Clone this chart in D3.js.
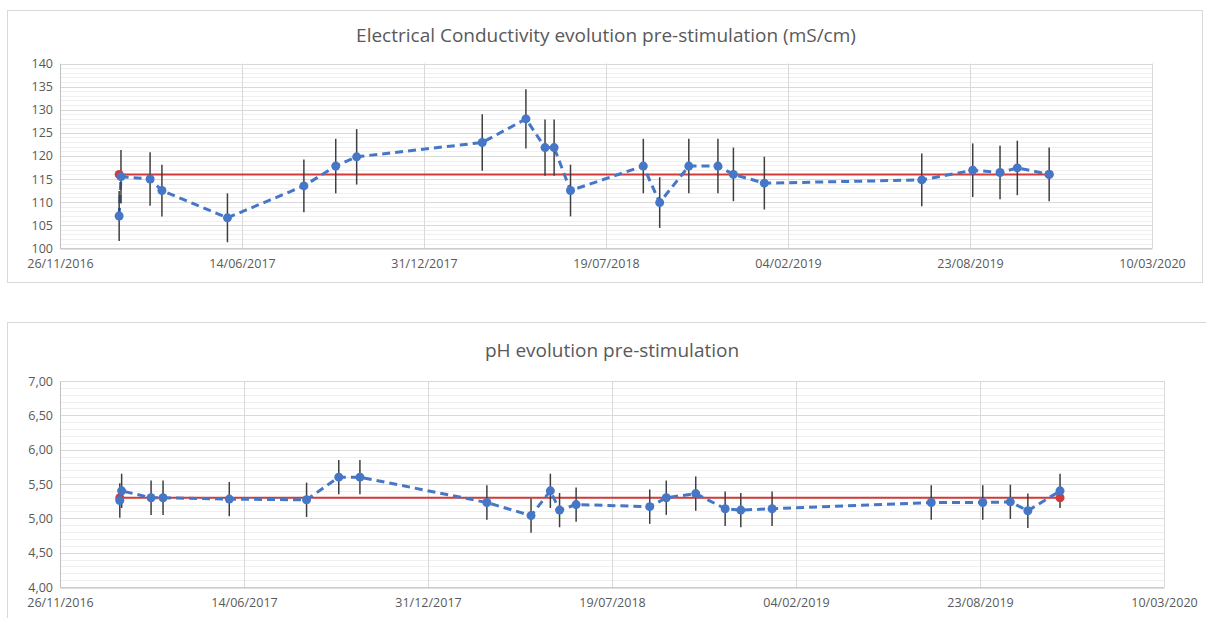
<!DOCTYPE html>
<html>
<head>
<meta charset="utf-8">
<script src="https://cdn.jsdelivr.net/npm/d3@7"></script>
<style>
  body { margin: 0; background: #fff; }
  svg { display: block; font-family: "Open Sans", "Noto Sans", sans-serif; }
</style>
</head>
<body>
<svg id="chart" width="1206" height="618"></svg>
<script>
// sampling dates shared by both charts
const sampleDates = [
  "2017-01-30", "2017-02-01", "2017-03-05", "2017-03-18", "2017-05-29",
  "2017-08-21", "2017-09-25", "2017-10-18", "2018-03-05", "2018-04-22",
  "2018-05-13", "2018-05-23", "2018-06-10", "2018-08-29", "2018-09-16",
  "2018-10-18", "2018-11-19", "2018-12-06", "2019-01-09", "2019-07-01",
  "2019-08-26", "2019-09-25", "2019-10-14", "2019-11-18"
];

// electrical conductivity (mS/cm) and its error bars
const ecValues = [
  107, 115.5, 115, 112.5, 106.6, 113.5, 117.8, 119.8, 122.9, 128,
  121.8, 121.8, 112.5, 117.8, 109.9, 117.8, 117.8, 116, 114.1, 114.8,
  116.9, 116.4, 117.4, 116
];
const ecErrors = [
  5.4, 5.8, 5.8, 5.6, 5.3, 5.7, 5.9, 6.0, 6.1, 6.4,
  6.1, 6.1, 5.6, 5.9, 5.5, 5.9, 5.9, 5.8, 5.7, 5.7,
  5.8, 5.8, 5.9, 5.8
];

// pH values and error bars
const phValues = [
  5.26, 5.40, 5.30, 5.30, 5.28, 5.27, 5.60, 5.60, 5.23, 5.04,
  5.40, 5.12, 5.20, 5.17, 5.30, 5.36, 5.14, 5.12, 5.14, 5.23,
  5.23, 5.24, 5.11, 5.40
];
const phErrors = [
  0.25, 0.25, 0.25, 0.25, 0.25, 0.25, 0.25, 0.25, 0.25, 0.25,
  0.25, 0.25, 0.25, 0.25, 0.25, 0.25, 0.25, 0.25, 0.25, 0.25,
  0.25, 0.25, 0.25, 0.25
];

// reference (mean) lines, drawn in red
const refDates = ["2017-01-30", "2019-11-18"];
const ecRef = [116, 116];
const phRef = [5.30, 5.30];

// axis tick labels
const xTickLabels = ["26/11/2016", "14/06/2017", "31/12/2017", "19/07/2018",
                     "04/02/2019", "23/08/2019", "10/03/2020"];
const ecTicks = [100, 105, 110, 115, 120, 125, 130, 135, 140];
const phTicks = [4.0, 4.5, 5.0, 5.5, 6.0, 6.5, 7.0];

const blue = "#4677c6";
const red = "#d23b3a";
const grey = "#595959";

const svg = d3.select("#chart");

const parseIso = d3.utcParse("%Y-%m-%d");
const parseTick = d3.utcParse("%d/%m/%Y");

function drawChart(opt) {
  const g = svg.append("g");

  // outer chart box
  g.append("rect")
    .attr("x", opt.box[0] + 0.5).attr("y", opt.box[1] + 0.5)
    .attr("width", opt.box[2]).attr("height", opt.box[3])
    .attr("fill", "#fff").attr("stroke", "#d9d9d9");

  g.append("text")
    .attr("x", opt.titleX).attr("y", opt.titleY)
    .attr("text-anchor", "middle")
    .attr("font-size", 19)
    .attr("fill", grey)
    .text(opt.title);

  const tickDates = xTickLabels.map(parseTick);
  const x = d3.scaleUtc()
    .domain([tickDates[0], tickDates[tickDates.length - 1]])
    .range([opt.left, opt.right]);
  const y = d3.scaleLinear()
    .domain([opt.ticks[0], opt.ticks[opt.ticks.length - 1]])
    .range([opt.bottom, opt.top]);

  // minor horizontal gridlines
  const minor = d3.range(opt.ticks[0], opt.ticks[opt.ticks.length - 1] + 1e-9, opt.minorStep);
  g.append("g").selectAll("line")
    .data(minor)
    .join("line")
    .attr("x1", opt.left).attr("x2", opt.right)
    .attr("y1", d => Math.round(y(d)) + 0.5)
    .attr("y2", d => Math.round(y(d)) + 0.5)
    .attr("stroke", "#efefef");

  // major horizontal gridlines
  g.append("g").selectAll("line")
    .data(opt.ticks)
    .join("line")
    .attr("x1", opt.left).attr("x2", opt.right)
    .attr("y1", d => Math.round(y(d)) + 0.5)
    .attr("y2", d => Math.round(y(d)) + 0.5)
    .attr("stroke", "#d9d9d9");

  // vertical gridlines
  g.append("g").selectAll("line")
    .data(tickDates)
    .join("line")
    .attr("x1", d => Math.round(x(d)) + 0.5)
    .attr("x2", d => Math.round(x(d)) + 0.5)
    .attr("y1", opt.top).attr("y2", opt.bottom)
    .attr("stroke", "#d9d9d9");

  // y axis labels
  const yAxis = g.append("g")
    .attr("transform", `translate(${opt.left},0)`)
    .call(d3.axisLeft(y).tickValues(opt.ticks).tickFormat(opt.fmt).tickSize(0).tickPadding(7));
  yAxis.select(".domain").attr("stroke", "#bfbfbf");

  // x axis labels
  const xAxis = g.append("g")
    .attr("transform", `translate(0,${Math.round(opt.bottom) + 0.5})`)
    .call(d3.axisBottom(x).tickValues(tickDates).tickFormat(d3.utcFormat("%d/%m/%Y")).tickSize(0).tickPadding(11));
  xAxis.select(".domain").attr("stroke", "#bfbfbf");

  g.selectAll(".tick text")
    .attr("font-family", '"Open Sans", "Noto Sans", sans-serif')
    .attr("font-size", 12.5)
    .attr("fill", grey);

  const pts = sampleDates.map((d, i) => ({ date: parseIso(d), v: opt.values[i], e: opt.errors[i] }));

  // red reference line
  const ref = refDates.map((d, i) => ({ date: parseIso(d), v: opt.ref[i] }));
  const line = d3.line().x(d => x(d.date)).y(d => y(d.v));

  g.append("path")
    .datum(ref)
    .attr("d", line)
    .attr("fill", "none")
    .attr("stroke", red)
    .attr("stroke-width", 2);

  // blue dashed series
  g.append("path")
    .datum(pts)
    .attr("d", line)
    .attr("fill", "none")
    .attr("stroke", blue)
    .attr("stroke-width", 3)
    .attr("stroke-dasharray", "8,5");

  // error bars
  g.append("g").selectAll("line")
    .data(pts)
    .join("line")
    .attr("x1", d => x(d.date)).attr("x2", d => x(d.date))
    .attr("y1", d => y(d.v + d.e)).attr("y2", d => y(d.v - d.e))
    .attr("stroke", "#3f3f3f")
    .attr("stroke-width", 1.5);

  g.append("g").selectAll("circle")
    .data(ref)
    .join("circle")
    .attr("cx", d => x(d.date)).attr("cy", d => y(d.v))
    .attr("r", 4.5)
    .attr("fill", red);

  g.append("g").selectAll("circle")
    .data(pts)
    .join("circle")
    .attr("cx", d => x(d.date)).attr("cy", d => y(d.v))
    .attr("r", 4.5)
    .attr("fill", blue);
}

drawChart({
  box: [7, 10, 1195, 272],
  title: "Electrical Conductivity evolution pre-stimulation (mS/cm)",
  titleX: 606, titleY: 42,
  left: 60, right: 1152, top: 63.5, bottom: 248.3,
  ticks: ecTicks, minorStep: 1,
  fmt: d3.format("d"),
  values: ecValues, errors: ecErrors, ref: ecRef
});

drawChart({
  box: [7, 322, 1210, 310],
  title: "pH evolution pre-stimulation",
  titleX: 612, titleY: 357,
  left: 60, right: 1164, top: 381, bottom: 587,
  ticks: phTicks, minorStep: 0.1,
  fmt: d => d3.format(".2f")(d).replace(".", ","),
  values: phValues, errors: phErrors, ref: phRef
});
</script>
</body>
</html>
